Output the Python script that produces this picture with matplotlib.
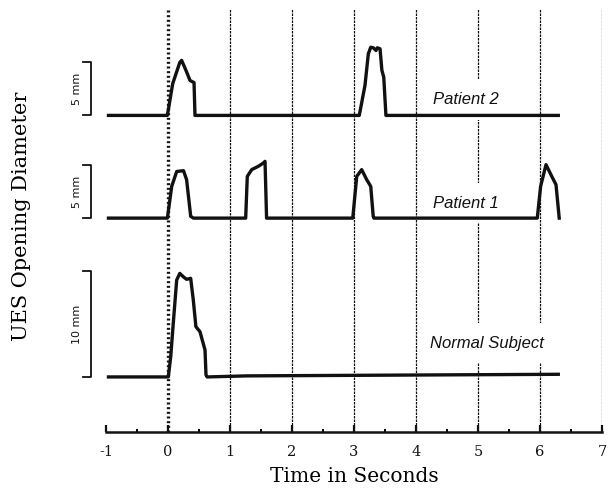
import numpy as np
import matplotlib.pyplot as plt

plt.rcParams["axes.unicode_minus"] = False

# traces: time (s) and opening (mm above each trace's own baseline)
p2_t = [-0.96, -0.01, 0.076, 0.19, 0.22, 0.29, 0.355, 0.42, 0.435,
        3.085, 3.177, 3.231, 3.27, 3.31, 3.355, 3.376, 3.42, 3.45, 3.48, 3.515, 6.295]
p2_mm = [0, 0, 3.0, 5.0, 5.2, 4.25, 3.3, 3.1, 0,
         0, 2.83, 5.82, 6.44, 6.39, 6.13, 6.39, 6.29, 4.25, 3.61, 0, 0]

p1_t = [-0.96, -0.01, 0.06, 0.14, 0.25, 0.30, 0.366, 0.41,
        1.253, 1.279, 1.35, 1.456, 1.537, 1.565, 1.59,
        2.98, 3.044, 3.124, 3.205, 3.27, 3.31, 3.32,
        5.956, 6.01, 6.097, 6.19, 6.258, 6.31]
p1_mm = [0, 0, 3.0, 4.4, 4.48, 3.63, 0.17, 0,
         0, 3.94, 4.58, 4.89, 5.2, 5.36, 0,
         0, 3.94, 4.58, 3.63, 3.0, 0.17, 0,
         0, 3.0, 5.05, 3.94, 3.16, 0]

ns_t = [-0.96, 0.005, 0.044, 0.085, 0.14, 0.19, 0.247, 0.30, 0.366, 0.408,
        0.45, 0.516, 0.56, 0.597, 0.613, 0.63, 1.27, 6.295]
ns_mm = [0, 0, 1.92, 5.07, 9.15, 9.78, 9.46, 9.22, 9.31, 7.26,
         4.75, 4.27, 3.33, 2.55, 0.19, 0, 0.1, 0.25]

names = ["Patient 2", "Patient 1", "Normal Subject"]
offsets = [24.7, 15.0, 0.0]
bar_mm = [5, 5, 10]
label_t = [4.27, 4.27, 4.23]
label_y = [26.2, 16.4, 3.2]

fig = plt.figure(figsize=(6.11, 4.94), dpi=100)
ax = fig.add_axes([106 / 611, 62 / 494, 496 / 611, 432 / 494])
ax.set_xlim(-1, 7)
ax.set_ylim(-5.2, 35.6)

ink = "#111111"

# vertical reference lines
ax.axvline(0, ymax=0.982, color=ink, lw=2.4, ls=(0, (0.6, 0.8)), zorder=1)
for s in range(1, 8):
    ax.axvline(s, ymax=0.98, color=ink, lw=0.9, ls=(0, (2, 0.8)), zorder=1)

traces = [(p2_t, p2_mm), (p1_t, p1_mm), (ns_t, ns_mm)]
for (t, mm), off, name, lt, ly, bm in zip(traces, offsets, names, label_t, label_y, bar_mm):
    ax.plot(t, np.array(mm) + off, color=ink, lw=2.4, solid_joinstyle="round", zorder=3)
    ax.text(lt, ly, name, fontsize=12, style="italic", family="Liberation Sans",
            va="center", ha="left", color=ink, zorder=2,
            bbox=dict(boxstyle="square,pad=0.75", fc="white", ec="none"))
    # scale bar
    ax.plot([-1.37, -1.242, -1.242, -1.37], [off, off, off + bm, off + bm],
            color=ink, lw=1.3, clip_on=False)
    ax.text(-1.47, off + bm / 2, f"{bm} mm", rotation=90, fontsize=8,
            family="DejaVu Sans", ha="center", va="center", color=ink)

for sp in ["top", "right", "left"]:
    ax.spines[sp].set_visible(False)
ax.spines["bottom"].set_linewidth(1.8)
ax.spines["bottom"].set_color(ink)
ax.set_yticks([])
ax.set_xticks(range(-1, 8))
ax.set_xticks(np.arange(-0.5, 7, 1), minor=True)
ax.tick_params(axis="x", which="major", direction="in", length=5, width=1.6,
               pad=9, labelsize=10.5, colors=ink)
ax.tick_params(axis="x", which="minor", direction="in", length=2, width=1.4)
for lab in ax.get_xticklabels():
    lab.set_family("DejaVu Serif")

ax.set_xlabel("Time in Seconds", family="DejaVu Serif", fontsize=14.5, labelpad=6)
fig.text(22 / 611, 1 - 216 / 494, "UES Opening Diameter", rotation=90,
         family="DejaVu Serif", fontsize=15, ha="center", va="center")

fig.savefig("out.png", dpi=100)
